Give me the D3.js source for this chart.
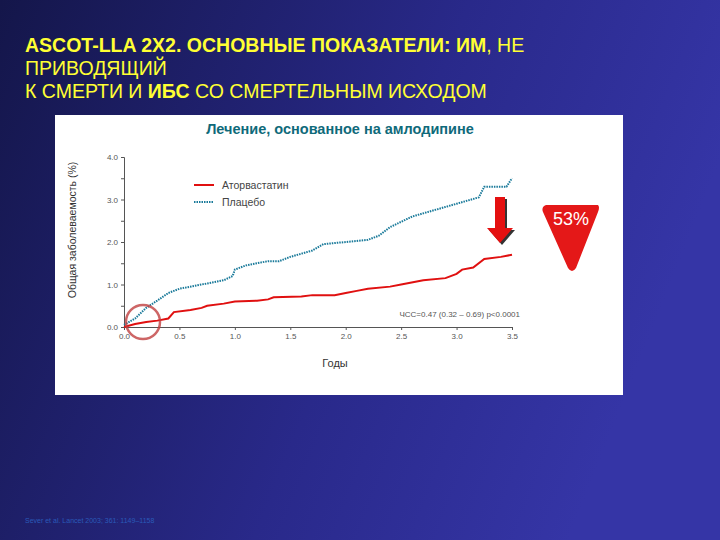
<!DOCTYPE html>
<html><head><meta charset="utf-8">
<script src="https://cdn.jsdelivr.net/npm/d3@7/dist/d3.min.js"></script>
<style>body{margin:0}svg{display:block}</style></head>
<body><svg id="c" width="720" height="540"></svg>
<script>
const yearsPlacebo=[0,0.1,0.2,0.3,0.4,0.5,0.7,0.9,0.98,1.0,1.1,1.3,1.4,1.5,1.7,1.8,2.0,2.2,2.3,2.4,2.6,2.8,3.0,3.2,3.25,3.45,3.5];
const placebo=[0.05,0.2,0.45,0.62,0.8,0.9,1.0,1.1,1.2,1.35,1.45,1.55,1.55,1.65,1.8,1.95,2.0,2.05,2.15,2.35,2.6,2.75,2.9,3.05,3.3,3.3,3.5];
const yearsAtorva=[0,0.1,0.2,0.3,0.4,0.45,0.6,0.7,0.75,0.9,1.0,1.2,1.3,1.35,1.6,1.7,1.9,2.0,2.1,2.2,2.4,2.5,2.7,2.9,3.0,3.05,3.15,3.25,3.4,3.5];
const atorva=[0,0.07,0.12,0.15,0.2,0.35,0.4,0.45,0.5,0.55,0.6,0.62,0.65,0.7,0.72,0.75,0.75,0.8,0.85,0.9,0.95,1.0,1.1,1.15,1.25,1.35,1.4,1.6,1.65,1.7];
const xTicks=[0,0.5,1,1.5,2,2.5,3,3.5];
const yTicks=[0,1,2,3,4];
const svg=d3.select("#c");
const defs=svg.append("defs");
const g=defs.append("linearGradient").attr("id","bg").attr("x1","0").attr("y1","0").attr("x2","1").attr("y2","0.3");
g.append("stop").attr("offset","0").attr("stop-color","#14164a");
g.append("stop").attr("offset","0.6").attr("stop-color","#29298a");
g.append("stop").attr("offset","1").attr("stop-color","#3535a6");
svg.append("rect").attr("width",720).attr("height",540).attr("fill","url(#bg)");
const t=svg.append("text").attr("font-family","Liberation Sans").attr("font-size",19.5).attr("fill","#ffff33").attr("textLength",null);
const l1=t.append("tspan").attr("x",25).attr("y",52);
l1.append("tspan").attr("font-weight","bold").text("ASCOT-LLA 2X2. ОСНОВНЫЕ ПОКАЗАТЕЛИ: ИМ");
l1.append("tspan").text(", НЕ");
t.append("tspan").attr("x",25).attr("y",75).text("ПРИВОДЯЩИЙ");
const l3=t.append("tspan").attr("x",25).attr("y",98);
l3.append("tspan").text("К СМЕРТИ И ");
l3.append("tspan").attr("font-weight","bold").text("ИБС");
l3.append("tspan").text(" СО СМЕРТЕЛЬНЫМ ИСХОДОМ");
svg.append("rect").attr("x",55).attr("y",115).attr("width",568).attr("height",280).attr("fill","#fff");
svg.append("text").attr("x",340).attr("y",134).attr("text-anchor","middle").attr("font-family","Liberation Sans").attr("font-weight","bold").attr("font-size",14.5).attr("fill","#0f6a7a").text("Лечение, основанное на амлодипине");
const x=d3.scaleLinear().domain([0,3.5]).range([124,512]);
const y=d3.scaleLinear().domain([0,4]).range([327,157]);
svg.append("g").attr("transform","translate(0,327)").call(d3.axisBottom(x).tickValues(xTicks).tickFormat(d3.format(".1f")).tickSize(3));
svg.append("g").attr("transform","translate(124,0)").call(d3.axisLeft(y).tickValues(yTicks).tickFormat(d3.format(".1f")).tickSize(3));
svg.append("g").attr("transform","translate(124,0)").call(d3.axisLeft(y).tickValues([0.5,1.5,2.5,3.5]).tickFormat("").tickSize(3)).select(".domain").remove();
svg.selectAll(".tick text").attr("font-family","Liberation Sans").attr("font-size",8).attr("fill","#555");
svg.selectAll(".domain,.tick line").attr("stroke","#555");
svg.append("text").attr("x",335).attr("y",367).attr("text-anchor","middle").attr("font-family","Liberation Sans").attr("font-size",11).attr("fill","#333").text("Годы");
svg.append("text").attr("transform","translate(76,230) rotate(-90)").attr("text-anchor","middle").attr("font-family","Liberation Sans").attr("font-size",10.5).attr("fill","#333").text("Общая заболеваемость (%)");
const line=d3.line().x(d=>x(d[0])).y(d=>y(d[1]));
svg.append("path").attr("d",line(yearsPlacebo.map((v,i)=>[v,placebo[i]]))).attr("fill","none").attr("stroke","#1a7a9a").attr("stroke-width",2).attr("stroke-dasharray","1.5,1");
svg.append("path").attr("d",line(yearsAtorva.map((v,i)=>[v,atorva[i]]))).attr("fill","none").attr("stroke","#e01010").attr("stroke-width",2);
svg.append("line").attr("x1",194).attr("x2",214).attr("y1",185).attr("y2",185).attr("stroke","#e01010").attr("stroke-width",2);
svg.append("line").attr("x1",194).attr("x2",214).attr("y1",202).attr("y2",202).attr("stroke","#1a7a9a").attr("stroke-width",2).attr("stroke-dasharray","1.5,1");
svg.append("text").attr("x",222).attr("y",189).attr("font-family","Liberation Sans").attr("font-size",10.5).attr("fill","#444").text("Аторвастатин");
svg.append("text").attr("x",222).attr("y",206).attr("font-family","Liberation Sans").attr("font-size",10.5).attr("fill","#444").text("Плацебо");
svg.append("text").attr("x",520).attr("y",317).attr("text-anchor","end").attr("font-family","Liberation Sans").attr("font-size",8).attr("fill","#555").text("ЧСС=0.47 (0.32 – 0.69) p<0.0001");
svg.append("circle").attr("cx",143).attr("cy",322).attr("r",17).attr("fill","none").attr("stroke","#c04040").attr("stroke-width",2.5).attr("opacity",0.8);
svg.append("path").attr("d","M495,197 L505,197 L505,228 L513,228 L500,243 L487,228 L495,228 Z").attr("fill","#333").attr("transform","translate(2,2)");
svg.append("path").attr("d","M495,197 L505,197 L505,228 L513,228 L500,243 L487,228 L495,228 Z").attr("fill","#e41010");
svg.append("path").attr("d","M546,205 L598,205 Q600,207 598,212 L576,268 Q572,274 568,268 L543,212 Q541,207 546,205 Z").attr("fill","#e41818");
svg.append("text").attr("x",571).attr("y",225).attr("text-anchor","middle").attr("font-family","Liberation Sans").attr("font-size",18).attr("fill","#fff").text("53%");
svg.append("text").attr("x",25).attr("y",523).attr("font-family","Liberation Sans").attr("font-size",7).attr("fill","#2a5ab8").text("Sever et al. Lancet 2003; 361: 1149–1158");
</script></body></html>
